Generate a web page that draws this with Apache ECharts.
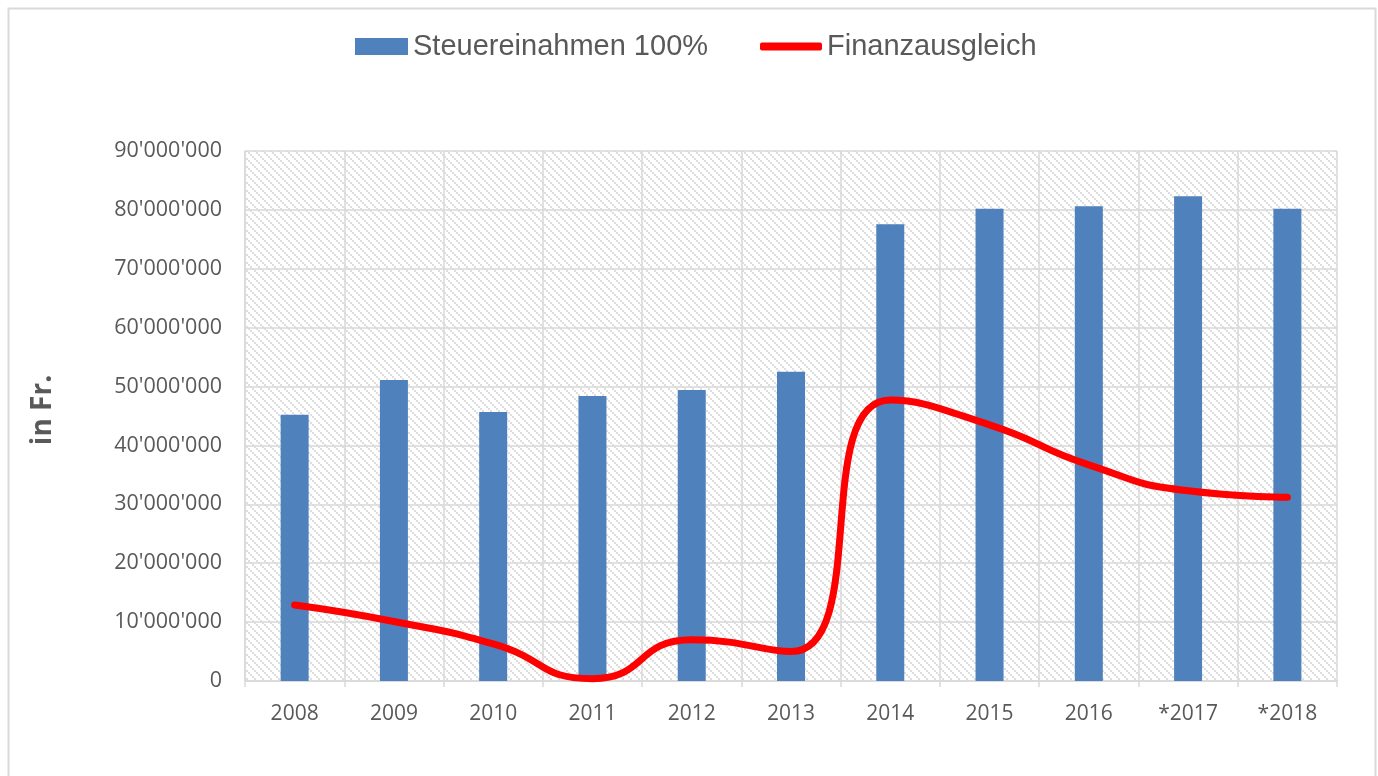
<!DOCTYPE html>
<html>
<head>
<meta charset="utf-8">
<script src="https://cdn.jsdelivr.net/npm/echarts@6/dist/echarts.min.js"></script>
<style>
html,body{margin:0;padding:0;background:#fff;}
#chart{width:1378px;height:776px;}
</style>
</head>
<body>
<div id="chart"></div>
<script>
const categories = ['2008','2009','2010','2011','2012','2013','2014','2015','2016','*2017','*2018'];
const steuereinnahmen = [45200000, 51100000, 45700000, 48400000, 49400000, 52500000, 77550000, 80200000, 80600000, 82300000, 80200000];
const finanzausgleich = [12900000, 10100000, 6300000, 400000, 7000000, 5000000, 47700000, 43500000, 36700000, 32300000, 31200000];
const seriesNames = ['Steuereinahmen 100%', 'Finanzausgleich'];
const yAxisName = 'in Fr.';

// hatch pattern for plot area (2x2 dots along a downward diagonal)
const pc = document.createElement('canvas');
const P = 8;
pc.width = P; pc.height = P;
const pctx = pc.getContext('2d');
pctx.fillStyle = '#ffffff';
pctx.fillRect(0,0,P,P);
pctx.fillStyle = '#dedede';
for (let k = 0; k < P; k += 2) {
  pctx.fillRect(k, k, 2, 2);
}

function fmt(v){
  const s = String(Math.round(v));
  return s.replace(/\B(?=(\d{3})+(?!\d))/g, "'");
}

const chart = echarts.init(document.getElementById('chart'), null, {renderer:'canvas'});
const txt = '#595959';
const gridC = '#d9d9d9';
chart.setOption({
  animation:false,
  backgroundColor:'#ffffff',
  graphic:[{
    type:'rect', left:6, top:6, silent:true,
    shape:{x:0,y:0,width:1367,height:800},
    style:{fill:'none', stroke:'#d9d9d9', lineWidth:2}
  }],
  legend:[{
    data:[{name:seriesNames[0], icon:'rect'}],
    left:355, top:32, padding:0, itemWidth:53, itemHeight:17, itemGap:5,
    textStyle:{fontFamily:'Liberation Sans', fontSize:29, color:txt}
  },{
    data:[{name:seriesNames[1], icon:'roundRect'}],
    left:760, top:32, padding:0, itemWidth:62, itemHeight:8,
    textStyle:{fontFamily:'Liberation Sans', fontSize:29, color:txt}
  }],
  grid:{left:245, right:41, top:151, bottom:95, show:true,
        backgroundColor:{image:pc, repeat:'repeat'}, borderWidth:0},
  xAxis:{
    type:'category', data:categories, boundaryGap:true,
    axisLine:{show:true, lineStyle:{color:gridC, width:1.5}},
    axisTick:{show:true, length:6, alignWithLabel:false, lineStyle:{color:gridC, width:1.5}},
    splitLine:{show:true, lineStyle:{color:gridC, width:1.5}},
    axisLabel:{fontFamily:'Open Sans', fontSize:21, color:txt, margin:23}
  },
  yAxis:{
    type:'value', min:0, max:90000000, interval:10000000,
    name:yAxisName, nameLocation:'middle', nameGap:188, nameRotate:90,
    nameTextStyle:{fontFamily:'Open Sans', fontWeight:'bold', fontSize:28, color:txt, padding:[0,0,0,12]},
    axisLine:{show:true, lineStyle:{color:gridC, width:1.5}},
    axisTick:{show:false},
    splitLine:{show:true, lineStyle:{color:gridC, width:1.5}},
    axisLabel:{fontFamily:'Open Sans', fontSize:21.5, color:txt, margin:23, formatter:fmt}
  },
  series:[{
    name:seriesNames[0], type:'bar', data:steuereinnahmen, barWidth:28,
    itemStyle:{color:'#4f81bd'}
  },{
    name:seriesNames[1], type:'line', data:finanzausgleich, smooth:0.55,
    symbol:'none', lineStyle:{color:'#ff0000', width:7, cap:'round', join:'round'},
    itemStyle:{color:'#ff0000'}
  }]
});
</script>
</body>
</html>
